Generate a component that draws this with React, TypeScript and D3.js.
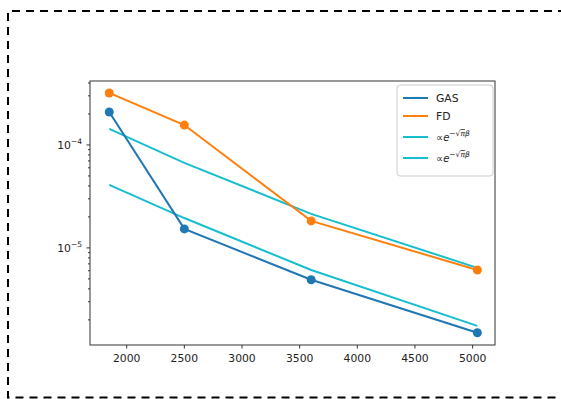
import React from "react";
import * as d3 from "d3";

// sample sizes (x) and errors for each series
const xs = [1849, 2500, 3600, 5041];
const gasErr = [2.09e-4, 1.53e-5, 4.9e-6, 1.5e-6];
const fdErr = [3.2e-4, 1.56e-4, 1.83e-5, 6.1e-6];
const fit1 = [1.43e-4, 6.7e-5, 2.14e-5, 6.4e-6];
const fit2 = [4.1e-5, 1.95e-5, 6.1e-6, 1.75e-6];

const xTicks = [2000, 2500, 3000, 3500, 4000, 4500, 5000];
const yMajor = [1e-5, 1e-4];

const W = 561;
const H = 399;
const margin = { left: 90, right: 66, top: 81, bottom: 54 };

const C_GAS = "#1f77b4";
const C_FD = "#ff7f0e";
const C_FIT = "#17becf";

export default function App() {
  const x = d3
    .scaleLinear()
    .domain([1682, 5194])
    .range([margin.left, W - margin.right]);
  const y = d3
    .scaleLog()
    .domain([1.14e-6, 4.18e-4])
    .range([H - margin.bottom, margin.top]);

  const line = (vals: number[]) =>
    d3
      .line<number>()
      .x((_, i) => x(xs[i]))
      .y((d) => y(d))(vals) as string;

  const [y0, y1] = y.domain();
  const minor: number[] = [];
  for (let e = -7; e <= -3; e++) {
    for (let k = 2; k <= 9; k++) {
      const v = k * Math.pow(10, e);
      if (v >= y0 && v <= y1) minor.push(v);
    }
  }

  const font = "DejaVu Sans, sans-serif";
  const left = margin.left;
  const right = W - margin.right;
  const top = margin.top;
  const bottom = H - margin.bottom;

  const legendItems = [
    { color: C_GAS, label: "GAS" },
    { color: C_FD, label: "FD" },
    { color: C_FIT, label: "fit" },
    { color: C_FIT, label: "fit" },
  ];
  const legendY = [98, 116, 137, 158];

  return (
    <svg
      width={W}
      height={H}
      style={{ position: "absolute", left: 0, top: 0, background: "#fff" }}
      fontFamily={font}
    >
      {/* dashed outer frame */}
      <path
        d={`M${W + 5},11 H8 V397.5 H${W + 5}`}
        fill="none"
        stroke="#000"
        strokeWidth={2}
        strokeDasharray="8,6"
      />

      {/* series */}
      <path d={line(fit1)} fill="none" stroke={C_FIT} strokeWidth={2} />
      <path d={line(fit2)} fill="none" stroke={C_FIT} strokeWidth={2} />
      <path d={line(gasErr)} fill="none" stroke={C_GAS} strokeWidth={2} />
      <path d={line(fdErr)} fill="none" stroke={C_FD} strokeWidth={2} />
      {gasErr.map((d, i) => (
        <circle key={"g" + i} cx={x(xs[i])} cy={y(d)} r={4.5} fill={C_GAS} />
      ))}
      {fdErr.map((d, i) => (
        <circle key={"f" + i} cx={x(xs[i])} cy={y(d)} r={4.5} fill={C_FD} />
      ))}

      {/* axes frame */}
      <rect
        x={left}
        y={top}
        width={right - left}
        height={bottom - top}
        fill="none"
        stroke="#333"
        strokeWidth={1}
      />

      {/* x ticks */}
      {xTicks.map((t) => (
        <g key={t} transform={`translate(${x(t)},${bottom})`}>
          <line y2={3.5} stroke="#333" />
          <text y={17} textAnchor="middle" fontSize={10.8} fill="#222">
            {t}
          </text>
        </g>
      ))}

      {/* y ticks */}
      {minor.map((t) => (
        <line key={t} x1={left} x2={left - 2} y1={y(t)} y2={y(t)} stroke="#333" />
      ))}
      {yMajor.map((t) => (
        <g key={t} transform={`translate(${left},${y(t)})`}>
          <line x2={-3.5} stroke="#333" />
          <text x={-8} y={4} textAnchor="end" fontSize={10.8} fill="#222">
            10
            <tspan dy={-5} fontSize={7.5}>
              {"\u2212" + Math.round(-Math.log10(t))}
            </tspan>
          </text>
        </g>
      ))}

      {/* legend */}
      <rect
        x={397}
        y={85}
        width={96}
        height={91}
        rx={3}
        fill="#fff"
        fillOpacity={0.8}
        stroke="#ccc"
        strokeWidth={1}
      />
      {legendItems.map((it, i) => (
        <g key={i} transform={`translate(403,${legendY[i]})`}>
          <line x2={25} stroke={it.color} strokeWidth={2} />
          {it.label === "fit" ? (
            <text x={33} y={4} fontSize={10} fill="#222" fontStyle="italic">
              <tspan fontStyle="normal">∝</tspan>e
              <tspan dy={-5} fontSize={7.5} fontStyle="normal">
                −√
              </tspan>
              <tspan fontSize={7.5} textDecoration="overline">
                π
              </tspan>
              <tspan fontSize={7.5}>β</tspan>
            </text>
          ) : (
            <text x={33} y={4} fontSize={10.8} fill="#222">
              {it.label}
            </text>
          )}
        </g>
      ))}
    </svg>
  );
}
